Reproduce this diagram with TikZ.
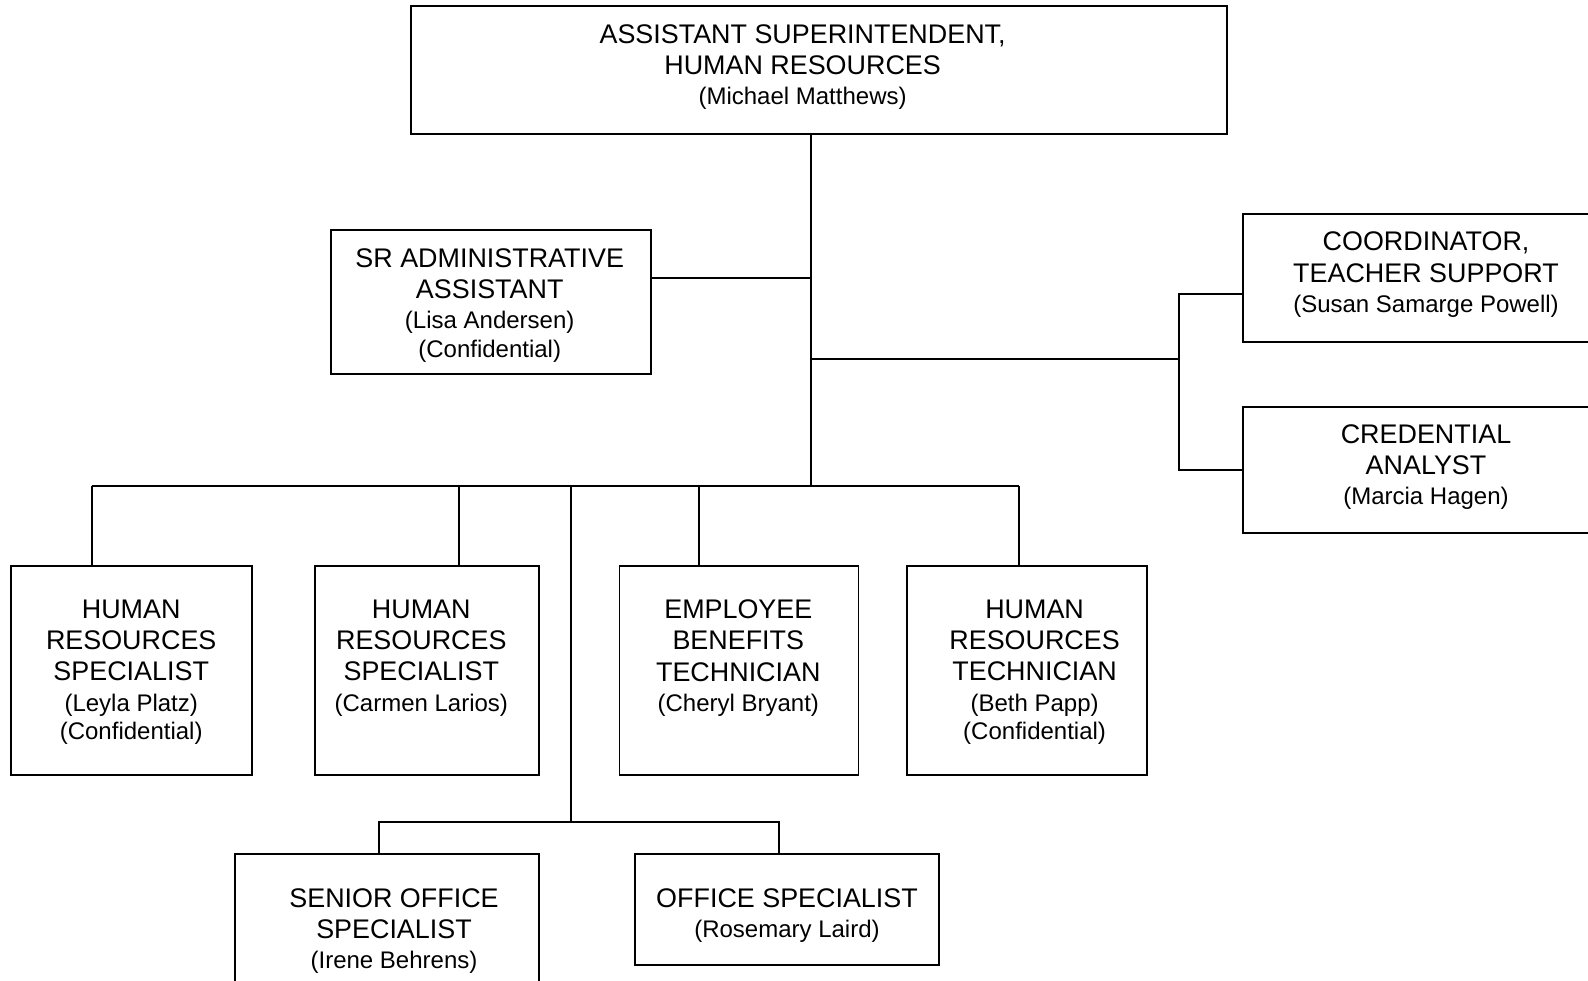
\documentclass[tikz,border=0pt]{standalone}
\usepackage{fontspec}
\setmainfont{Liberation Sans}
\newcommand{\titlefont}{\fontsize{13.45}{15.7}\selectfont}
\newcommand{\namefont}{\fontsize{12}{14.2}\selectfont}
\tikzset{
	box/.style={draw, line width=0.9pt, inner sep=0pt},
	txt/.style={anchor=north, align=center, inner sep=0pt, font=\titlefont},
	link/.style={line width=0.9pt},
}
\begin{document}
\begin{tikzpicture}[x=0.5pt, y=-0.5pt]

	\useasboundingbox (0,0) rectangle (1588,980);

	\node [box, minimum width=408pt, minimum height=64pt] (asup) at (819,70) {};
	\node [box, minimum width=160pt, minimum height=72pt] (sradmin) at (491,302) {};
	\node [box, minimum width=183pt, minimum height=64pt] (coord) at (1426,278) {};
	\node [box, minimum width=183pt, minimum height=63pt] (cred) at (1426,470) {};
	\node [box, minimum width=120.5pt, minimum height=104.5pt] (hrs1) at (131.5,670.5) {};
	\node [box, minimum width=112pt, minimum height=104.5pt] (hrs2) at (427,670.5) {};
	\node [box, minimum width=119.5pt, minimum height=104.5pt] (ebt) at (739,670.5) {};
	\node [box, minimum width=120pt, minimum height=104.5pt] (hrt) at (1027,670.5) {};
	\node [box, minimum width=152pt, minimum height=74pt] (sos) at (387,928) {};
	\node [box, minimum width=152pt, minimum height=55.5pt] (offspec) at (787,909.5) {};

	\node [txt] (asupt) at (802.6,24) {ASSISTANT SUPERINTENDENT,\\HUMAN RESOURCES\\[-0.5pt]\namefont (Michael Matthews)};
	\node [txt] (sradmint) at (489.7,247.9) {SR ADMINISTRATIVE\\ASSISTANT\\[-0.5pt]\namefont (Lisa Andersen)\\[-1.5pt]\namefont (Confidential)};
	\node [txt] (coordt) at (1426,231.6) {COORDINATOR,\\TEACHER SUPPORT\\[-0.5pt]\namefont (Susan Samarge Powell)};
	\node [txt] (credt) at (1426,424) {CREDENTIAL\\ANALYST\\[-0.5pt]\namefont (Marcia Hagen)};
	\node [txt] (hrs1t) at (131.2,599.2) {HUMAN\\RESOURCES\\SPECIALIST\\[-0.5pt]\namefont (Leyla Platz)\\[-1.5pt]\namefont (Confidential)};
	\node [txt] (hrs2t) at (421.3,599.2) {HUMAN\\RESOURCES\\SPECIALIST\\[-0.5pt]\namefont (Carmen Larios)};
	\node [txt] (ebtt) at (738.3,599.2) {EMPLOYEE\\BENEFITS\\TECHNICIAN\\[-0.5pt]\namefont (Cheryl Bryant)};
	\node [txt] (hrtt) at (1034.6,599.2) {HUMAN\\RESOURCES\\TECHNICIAN\\[-0.5pt]\namefont (Beth Papp)\\[-1.5pt]\namefont (Confidential)};
	\node [txt] (sost) at (394,887.9) {SENIOR OFFICE\\SPECIALIST\\[-0.5pt]\namefont (Irene Behrens)};
	\node [txt] (offspect) at (787,887.9) {OFFICE SPECIALIST\\[-0.5pt]\namefont (Rosemary Laird)};

	\coordinate (trunk) at (811,486);
	\draw [link] (asup.south -| trunk) -- (trunk);

	\coordinate (adminj) at (811,278);
	\draw [link] (sradmin.east |- adminj) -- (adminj);

	\coordinate (rightj) at (811,359);
	\coordinate (rbar) at (1179,359);
	\coordinate (rtop) at (1179,294);
	\coordinate (rbot) at (1179,470);
	\draw [link] (rightj) -- (rbar);
	\draw [link] (coord.west |- rtop) -- (rtop) -- (rbot) -- (cred.west |- rbot);

	\foreach \dx/\nd in {92/hrs1, 459/hrs2, 699/ebt, 1019/hrt} {
		\coordinate (bus-\nd) at (\dx,486);
		\draw [link] (bus-\nd) -- (bus-\nd |- \nd.north);
	}
	\draw [link] (bus-hrs1) -- (bus-hrt);

	\coordinate (lowj) at (571,822);
	\coordinate (sosj) at (379,822);
	\coordinate (offj) at (779,822);
	\draw [link] (trunk -| lowj) -- (lowj);
	\draw [link] (sos.north -| sosj) -- (sosj) -- (offj) -- (offspec.north -| offj);
\end{tikzpicture}
\end{document}
